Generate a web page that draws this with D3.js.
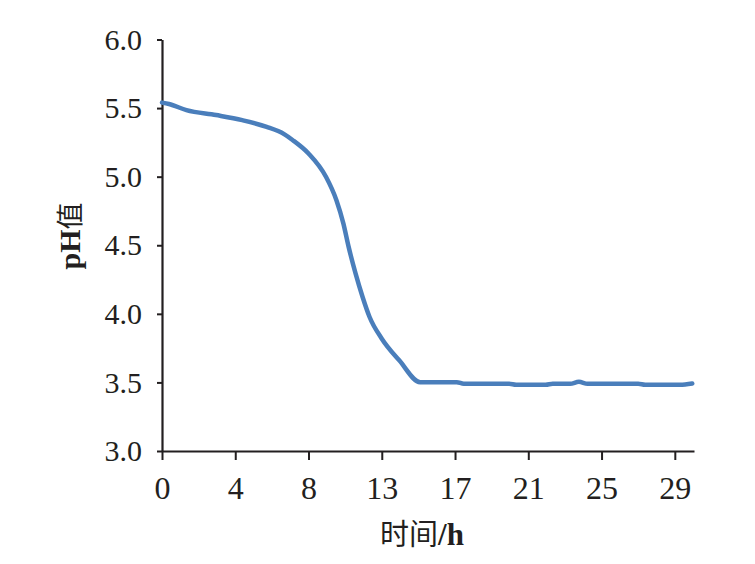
<!DOCTYPE html>
<html>
<head>
<meta charset="utf-8">
<script src="https://cdn.jsdelivr.net/npm/d3@7"></script>
<style>
  html, body { margin: 0; padding: 0; background: #ffffff; }
  svg { display: block; }
</style>
</head>
<body>
<svg id="chart" width="755" height="564"></svg>
<script>
// ---- data ----
const timeH = [0, 0.4, 1.4, 3.1, 4.6, 6.0, 7.0, 7.5, 8.4, 9.4, 10.0, 10.4, 10.7, 11.1, 11.5, 11.9, 12.6, 13.6, 14.8, 16.9, 17.3, 19.9, 20.3, 22.0, 22.4, 23.4, 23.9, 24.4, 27.3, 27.7, 29.7, 30.4];
const phValues = [5.54, 5.53, 5.485, 5.449, 5.412, 5.363, 5.31, 5.266, 5.169, 4.999, 4.828, 4.658, 4.488, 4.293, 4.123, 3.977, 3.819, 3.661, 3.502, 3.502, 3.49, 3.49, 3.483, 3.483, 3.49, 3.49, 3.505, 3.49, 3.49, 3.483, 3.483, 3.492];

const xTickValues = [0, 4.2, 8.4, 12.6, 16.8, 21.0, 25.2, 29.4];
const xTickLabels = ["0", "4", "8", "13", "17", "21", "25", "29"];
const yTickValues = [3.0, 3.5, 4.0, 4.5, 5.0, 5.5, 6.0];

const xTitleCJK = "时间", xTitleLatin = "/h";
const yTitleLatin = "pH", yTitleCJK = "值";

// ---- layout ----
const svg = d3.select("#chart");
const x = d3.scaleLinear().domain([0, 30.5]).range([162, 694]);
const y = d3.scaleLinear().domain([3, 6]).range([451, 39.5]);

const serif = "'Liberation Serif', 'Times New Roman', serif";
const cjk = "'Noto Sans CJK SC', sans-serif";
const axisColor = "#231f20";

// y axis
const gy = svg.append("g")
  .attr("transform", `translate(${x(0)},0)`)
  .call(d3.axisLeft(y).tickValues(yTickValues).tickFormat(d3.format(".1f")).tickSize(5).tickSizeOuter(0).tickPadding(15));
gy.select(".domain").attr("stroke", axisColor).attr("stroke-width", 2.2);
gy.selectAll(".tick line").attr("stroke", axisColor).attr("stroke-width", 2);
gy.selectAll(".tick text").attr("fill", "#231f20").style("font-family", serif).style("font-size", "30px");

// x axis
const gx = svg.append("g")
  .attr("transform", `translate(0,${y(3)})`)
  .call(d3.axisBottom(x).tickValues(xTickValues).tickFormat((d, i) => xTickLabels[i]).tickSize(9).tickSizeOuter(0).tickPadding(16));
gx.select(".domain").attr("stroke", axisColor).attr("stroke-width", 2.2);
gx.selectAll(".tick line").attr("stroke", axisColor).attr("stroke-width", 2);
gx.selectAll(".tick text").attr("fill", "#231f20").style("font-family", serif).style("font-size", "32px");

// line
const pts = timeH.map((t, i) => [t, phValues[i]]);
svg.append("path")
  .datum(pts)
  .attr("fill", "none")
  .attr("stroke", "#4a7ebb")
  .attr("stroke-width", 4.5)
  .attr("stroke-linejoin", "round")
  .attr("stroke-linecap", "round")
  .attr("d", d3.line().x(d => x(d[0])).y(d => y(d[1])).curve(d3.curveMonotoneX));

// x title
const xt = svg.append("text")
  .attr("x", 422).attr("y", 545)
  .attr("text-anchor", "middle")
  .attr("fill", "#231f20");
xt.append("tspan").style("font-family", cjk).style("font-size", "29px").text(xTitleCJK);
xt.append("tspan").style("font-family", serif).style("font-size", "31px").style("font-weight", "bold").text(xTitleLatin);

// y title
const yt = svg.append("text")
  .attr("transform", "translate(80,236) rotate(-90)")
  .attr("text-anchor", "middle")
  .attr("fill", "#231f20");
yt.append("tspan").style("font-family", serif).style("font-size", "30px").style("font-weight", "bold").text(yTitleLatin);
yt.append("tspan").style("font-family", cjk).style("font-size", "27px").text(yTitleCJK);
</script>
</body>
</html>
